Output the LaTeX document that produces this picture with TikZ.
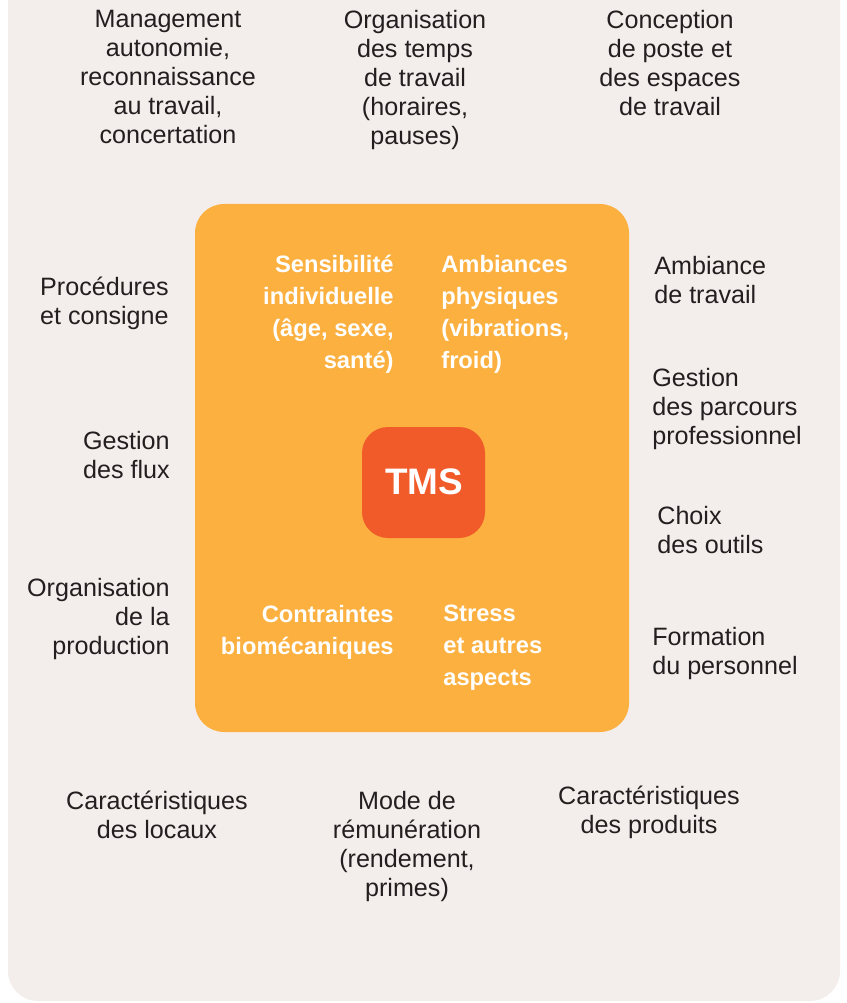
\documentclass[tikz,border=0pt]{standalone}
\usepackage{fontspec}
\setmainfont{Liberation Sans}
\definecolor{fond}{HTML}{F3EEEB}
\definecolor{orangeclair}{HTML}{FBB040}
\definecolor{orangevif}{HTML}{F15A29}
\definecolor{texte}{HTML}{231F20}
\begin{document}
\begin{tikzpicture}[x=0.02cm,y=-0.02cm,
    facteur/.style={inner sep=0pt,text=texte,font=\fontsize{14.3}{16.5}\selectfont},
    interne/.style={inner sep=0pt,text=white,font=\fontsize{13.5}{18.2}\selectfont\bfseries}]
    \useasboundingbox (0,0) rectangle (846,1003);
    \begin{scope}
        \clip (0,0) rectangle (846,1003);
        \fill[fond,rounded corners=0.6cm] (8,-60) rectangle (840,1001);
    \end{scope}
    \fill[orangeclair,rounded corners=0.58cm] (195,204) rectangle (629,732);
    \fill[orangevif,rounded corners=0.52cm] (362,427) rectangle (485,538);
    \node[text=white,font=\fontsize{21}{21}\selectfont\bfseries,inner sep=0pt] (tms) at (424,482) {TMS};
    % facteurs internes
    \node[interne,anchor=north east,align=right] (sensibilite) at (394,255) {Sensibilité\\individuelle\\(âge, sexe,\\santé)};
    \node[interne,anchor=north west,align=left] (ambiances) at (441,255) {Ambiances\\physiques\\(vibrations,\\froid)};
    \node[interne,anchor=north east,align=right] (contraintes) at (394,605) {Contraintes\\biomécaniques};
    \node[interne,anchor=north west,align=left] (stress) at (443,605) {Stress\\et autres\\aspects};
    % en haut
    \node[facteur,anchor=north,align=center] (management) at (168,10) {Management\\autonomie,\\reconnaissance\\au travail,\\concertation};
    \node[facteur,anchor=north,align=center] (temps) at (415,10) {Organisation\\des temps\\de travail\\(horaires,\\pauses)};
    \node[facteur,anchor=north,align=center] (conception) at (670,10) {Conception\\de poste et\\des espaces\\de travail};
    % a gauche
    \node[facteur,anchor=north east,align=right] (procedures) at (169,277) {Procédures\\et consigne};
    \node[facteur,anchor=north east,align=right] (flux) at (170,431) {Gestion\\des flux};
    \node[facteur,anchor=north east,align=right] (production) at (170,578) {Organisation\\de la\\production};
    % a droite
    \node[facteur,anchor=north west,align=left] (ambiance) at (654,256) {Ambiance\\de travail};
    \node[facteur,anchor=north west,align=left] (parcours) at (652,368) {Gestion\\des parcours\\professionnel};
    \node[facteur,anchor=north west,align=left] (outils) at (657,506) {Choix\\des outils};
    \node[facteur,anchor=north west,align=left] (formation) at (652,627) {Formation\\du personnel};
    % en bas
    \node[facteur,anchor=north,align=center] (locaux) at (157,791) {Caractéristiques\\des locaux};
    \node[facteur,anchor=north,align=center] (remuneration) at (407,791) {Mode de\\rémunération\\(rendement,\\primes)};
    \node[facteur,anchor=north,align=center] (produits) at (649,786) {Caractéristiques\\des produits};
\end{tikzpicture}
\end{document}
